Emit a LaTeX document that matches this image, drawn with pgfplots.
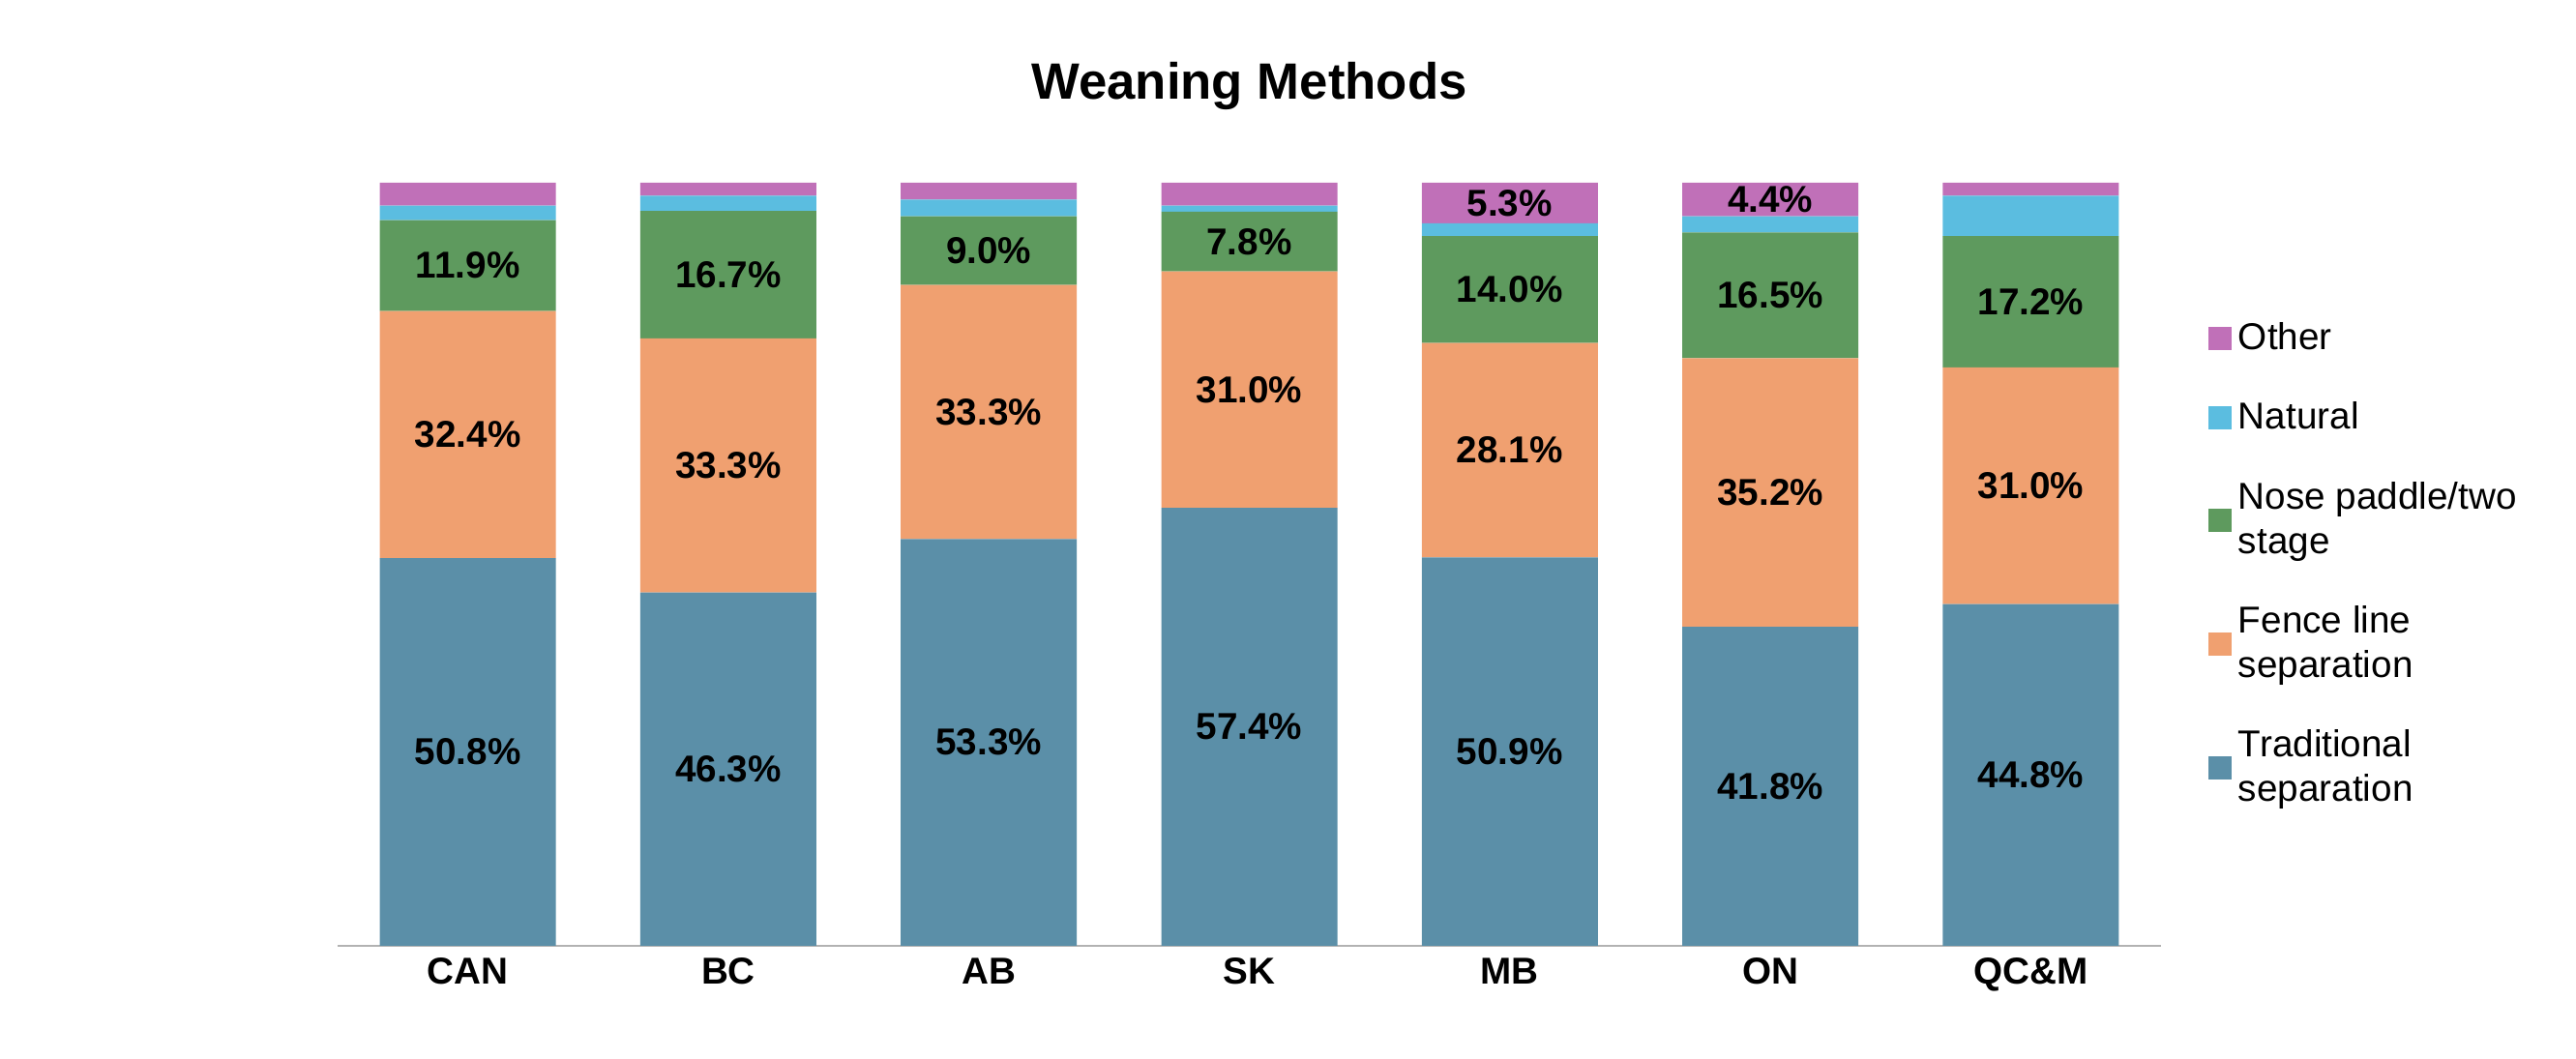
\documentclass[border=0pt]{standalone}
\usepackage{pgfplots}
\pgfplotsset{compat=1.18}
\usepackage{fontspec}
\setmainfont{Liberation Sans}
\definecolor{ctrad}{HTML}{5B8FA8}
\definecolor{cfence}{HTML}{F0A070}
\definecolor{cnose}{HTML}{5E9A5E}
\definecolor{cnat}{HTML}{5BBDE0}
\definecolor{cother}{HTML}{C070B8}
\begin{document}
\begin{tikzpicture}
\pgfplotsset{base/.style={width=18.85cm,height=7.89cm,scale only axis,
  xmin=-0.5,xmax=6.5,ymin=0,ymax=100}}
\useasboundingbox (-3.49cm,-1.17cm) rectangle (23.14cm,9.78cm);
\begin{axis}[base,ybar stacked,bar width=1.82cm,
  xtick={0,...,6},xticklabels={CAN,BC,AB,SK,MB,ON,QC\&M},
  xticklabel style={font=\fontsize{11}{13}\selectfont\bfseries},
  ytick={0,10,...,100},yticklabel={\pgfmathprintnumber{\tick}\%},
  yticklabel style={font=\fontsize{11}{13}\selectfont},
  /pgf/number format/assume math mode=true,
  major tick length=0pt,
  axis y line=none, axis x line*=bottom, x axis line style={draw=gray!60,-},
  ylabel={\% of respondents},ylabel style={font=\fontsize{11}{13}\selectfont},
  title={\fontsize{15}{18}\selectfont\bfseries Weaning Methods},
  title style={yshift=12pt},
  legend reversed,
  legend style={at={(1.02,0.5)},anchor=west,draw=none,font=\fontsize{11}{13}\selectfont,
    cells={align=left,anchor=west},row sep=10pt},
  legend image code/.code={\fill[#1] (0cm,-0.12cm) rectangle (0.24cm,0.12cm);},
  ]
\addplot+[ybar,fill=ctrad,draw=none] coordinates {(0,50.8)(1,46.3)(2,53.3)(3,57.4)(4,50.9)(5,41.8)(6,44.8)};
\addplot+[ybar,fill=cfence,draw=none] coordinates {(0,32.4)(1,33.3)(2,33.3)(3,31.0)(4,28.1)(5,35.2)(6,31.0)};
\addplot+[ybar,fill=cnose,draw=none] coordinates {(0,11.9)(1,16.7)(2,9.0)(3,7.8)(4,14.0)(5,16.5)(6,17.2)};
\addplot+[ybar,fill=cnat,draw=none] coordinates {(0,1.9)(1,2.0)(2,2.2)(3,0.8)(4,1.7)(5,2.1)(6,5.3)};
\addplot+[ybar,fill=cother,draw=none] coordinates {(0,3.0)(1,1.7)(2,2.2)(3,3.0)(4,5.3)(5,4.4)(6,1.7)};
\legend{Traditional\\separation,Fence line\\separation,Nose paddle/two\\stage,Natural,Other}
\end{axis}
\begin{axis}[base,hide axis]
\addplot[draw=none,mark=none,nodes near coords,point meta=explicit symbolic,
  every node near coord/.style={anchor=center,font=\fontsize{11}{13}\selectfont\bfseries}]
 coordinates {(0,25.4)[50.8\%] (1,23.15)[46.3\%] (2,26.65)[53.3\%] (3,28.7)[57.4\%] (4,25.45)[50.9\%] (5,20.9)[41.8\%] (6,22.4)[44.8\%]
 (0,67.0)[32.4\%] (1,62.95)[33.3\%] (2,69.95)[33.3\%] (3,72.9)[31.0\%] (4,64.95)[28.1\%] (5,59.4)[35.2\%] (6,60.3)[31.0\%]
 (0,89.15)[11.9\%] (1,87.95)[16.7\%] (2,91.1)[9.0\%] (3,92.3)[7.8\%] (4,86.0)[14.0\%] (5,85.25)[16.5\%] (6,84.4)[17.2\%]
 (4,97.35)[5.3\%] (5,97.8)[4.4\%]};
\end{axis}
\end{tikzpicture}
\end{document}
